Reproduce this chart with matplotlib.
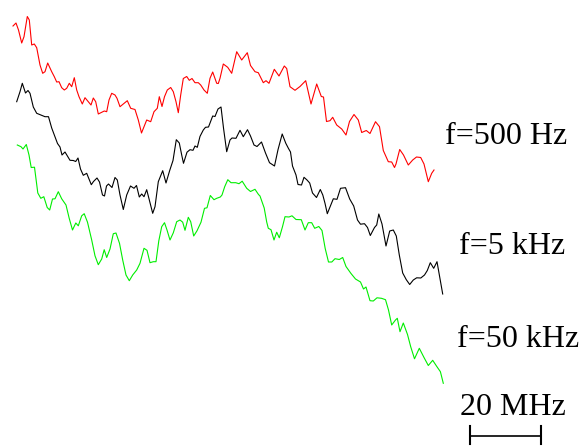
import numpy as np
import matplotlib
matplotlib.use("Agg")
import matplotlib.pyplot as plt

# spectra: x in display units (71 units = 20 MHz), y = offset amplitude (down is lower)
red_x = [13, 16, 18.5, 21.7, 24, 27.3, 29.3, 31.7, 34.3, 36.7, 40, 42.7, 45, 47.7, 51.7, 54.3, 56.7, 59,
         61.7, 64.3, 66.7, 69.3, 71.7, 74.3, 76.7, 79, 82.3, 85, 88.3, 91, 93.3, 95.7, 98.3, 101.7, 104.3,
         106.7, 109, 111.7, 115, 117, 120, 123.3, 127.3, 130.7, 135, 138.3, 141.5, 144.3, 146.7, 150.7, 154,
         157.3, 159.3, 162, 164.5, 167.3, 170.7, 173.3, 176, 178.3, 180.7, 183.3, 186.7, 189.3, 192, 195,
         198.3, 200.7, 204, 207.3, 210, 212.7, 216.7, 218.3, 220, 223.3, 227.7, 231.7, 236.7, 241.7, 247.3,
         250.5, 255, 258.3, 263.3, 266, 269, 274.3, 279, 284.3, 286.7, 290, 295, 300, 305.7, 311, 316.7,
         321.3, 323.5, 326.5, 330, 332.7, 336.7, 341.7, 346, 349.5, 354, 358.3, 361.7, 366.3, 370, 375.5,
         379.5, 383.3, 388.3, 391.7, 394.5, 396, 399.7, 403.5, 408.3, 412.7, 416.5, 420.7, 424, 428.3, 431.7, 434]
red_y = [26, 23, 30, 43, 36.7, 16.5, 20, 45, 44, 47.7, 65, 73.3, 71.7, 63, 71.7, 76.7, 82, 81.7,
         87.7, 90, 88.3, 83.3, 86.7, 77.7, 90, 96.7, 104, 97.7, 101.7, 105, 98, 101.7, 114, 112.3, 111,
         111.7, 100, 93.3, 95, 98.3, 106.7, 104, 100.7, 108.3, 109.5, 120, 133, 126, 120, 121.7, 111.7,
         108.3, 96.7, 106.5, 96.7, 90, 87.5, 91.7, 101.7, 112.7, 95, 78.5, 76.5, 80.3, 78.5, 82.7,
         82.7, 85, 90, 93.3, 78.3, 72, 83.3, 83.5, 78.3, 64, 67.3, 73.3, 51.7, 60, 52.7,
         65.5, 71.7, 72.7, 82.7, 80.7, 83.3, 69.3, 76, 66, 68.5, 86.7, 90.3, 86.5, 80.7, 104, 84,
         96.5, 97, 121.5, 120.7, 117.3, 125, 129, 135, 121.5, 114.5, 120, 132.5, 130.5, 133.5, 121.7,
         126.7, 150.5, 161.7, 162, 167.5, 164, 149.5, 155, 165, 160, 157, 157.5, 164, 181.7, 173.3, 170]

black_x = [16.7, 20, 22.3, 25.5, 28, 30, 33.3, 36.7, 41, 45, 48.5, 51.7, 55, 57.5, 60, 62, 65, 70, 73.3,
           75.7, 78, 80.5, 83.3, 86.7, 91.3, 93.5, 97, 99.5, 102.5, 104.5, 106.5, 108.5, 112, 115, 117.3,
           120, 123.3, 126.7, 130.5, 134, 136.5, 139.3, 141.7, 144, 146.7, 149.3, 152.7, 155, 158.3, 162.7,
           166, 169.7, 173, 176.3, 179.3, 181.7, 183.5, 187, 190, 193, 195, 197.3, 200, 203.3, 205.5, 208.5,
           212.7, 215, 218, 221, 223.5, 226.7, 230, 232, 236, 240, 243.3, 247.5, 250.5, 254, 257, 261.5,
           265.5, 269.5, 274.5, 278, 282.2, 285.8, 288.5, 290.5, 292.5, 296, 298, 301.5, 304, 307, 309.7,
           312.5, 316.5, 320.3, 322.8, 325, 327.3, 333.3, 337, 340.5, 345.5, 349.7, 353.7, 357.5, 360.5,
           364.5, 367.5, 370.3, 374.5, 376.7, 378.8, 382, 386, 389.7, 393.3, 396.3, 399.3, 402.7, 406.3,
           409.7, 413.3, 416.7, 420.8, 424.5, 427.3, 430.3, 433.7, 437, 442.7]
black_y = [101.7, 91.7, 83.3, 93, 90.5, 93.3, 107, 113.3, 115, 116.7, 116.7, 128, 137, 143.5, 147, 155, 152, 160.3, 160.5,
           161.5, 158, 169, 175.3, 173.3, 184.7, 181.5, 178, 182, 195, 196, 186, 184, 187.5, 177.5, 180,
           195, 209.5, 195, 186, 188.3, 185.5, 197, 194, 196.7, 189.7, 200, 213.3, 206.7, 181.7, 170.7,
           183, 170.5, 160.5, 139.7, 143, 155, 163.3, 152.2, 149.7, 150.3, 146, 147.3, 136.4, 130, 127.3, 127,
           116, 116.5, 109, 107, 128, 151.7, 140, 138, 138.3, 130.3, 136.7, 129.7, 136, 145, 146.5, 142,
           153, 162.7, 166, 149.7, 134, 143.3, 148.5, 152, 166, 175, 184.5, 185, 177.3, 180, 183,
           193, 197.5, 189.5, 195, 203.3, 213.7, 198.8, 199.3, 188.3, 187.7, 199, 206, 220, 224.2,
           223.7, 227.5, 235.5, 227.5, 225, 214, 224, 246, 231, 230, 236, 255, 273, 279.7,
           284.5, 280, 277.8, 278, 275, 270.5, 262.7, 268.3, 261.7, 294]

green_x = [17.3, 21, 23, 26.3, 29, 31.2, 34.5, 37.8, 40.8, 43.8, 47.2, 49.7, 52.5, 55, 58.3, 61.7, 66, 69.2,
           72.5, 75.8, 78.3, 81.7, 84.2, 87.5, 91.7, 95, 98.3, 101.7, 104.2, 106.7, 110, 113.3, 116, 119.5,
           122.7, 126, 129.3, 132.7, 136.7, 140, 144, 147, 150, 153.3, 156, 158.8, 161.7, 164.5, 167, 170,
           173.3, 176.7, 180, 182.7, 185, 188.3, 190.7, 193.7, 197, 201, 204.5, 207, 210.3, 214, 216.7,
           220.3, 222, 224.7, 227.8, 231, 235.7, 239, 242.2, 246.7, 250.5, 255, 258.5, 260, 264.2, 266.7,
           268.3, 271, 274, 276.7, 279.3, 282.5, 285, 289, 292, 296, 301.3, 305, 308.3, 311.7, 314.7, 318.8,
           322, 325.2, 328.5, 331.8, 335, 339.3, 342.7, 346, 351, 355.5, 360.5, 363.5, 366, 370, 373.3, 377,
           381.5, 385.5, 388.5, 391.7, 395.5, 397.3, 400, 403.3, 407.5, 410.7, 414.5, 419.3, 424, 428.3,
           432.7, 436.8, 440.4, 443.3]
green_y = [145, 146.7, 149, 144.5, 155, 167.5, 167.2, 193, 198.3, 196.7, 207.5, 210, 199, 198.8, 191.7, 198.8, 205, 218.3,
           230, 223, 225.8, 215.8, 213.7, 222.2, 240, 255.8, 264.7, 259, 249.7, 257.5, 249, 233.7, 233, 243.3,
           260, 275, 280.7, 275, 270, 263.3, 248.3, 250.3, 262.7, 261.7, 261.7, 240.8, 226.7, 222.7, 230, 240,
           232.8, 221.7, 220, 222.2, 230.3, 217.3, 221.7, 236, 230.8, 222.2, 208.3, 207.8, 195.5, 199.7, 198.3,
           197, 195, 186.7, 179.7, 182.7, 182.7, 183.7, 181.2, 188.3, 191.5, 189.3, 194.5, 196, 208, 222,
           228.3, 229.7, 240, 232.2, 237.8, 226.7, 216.7, 217, 215.8, 219.5, 219.7, 230, 222.7, 222.7, 228.3, 226.5,
           230.5, 248.5, 262, 262, 258.7, 259.5, 257.5, 266.5, 273.5, 279, 282, 289, 287, 300.7, 301, 297.8,
           298.3, 299.7, 310, 325, 320, 318.3, 331.7, 323, 334.5, 346.7, 358.8, 348.3, 357.5, 365.5,
           360.3, 366.5, 371.7, 383.3]

labels = ["f=500 Hz", "f=5 kHz", "f=50 kHz"]
colors = ["#ff0000", "#000000", "#00ee00"]
units_per_mhz = 71 / 20
bar_mhz = 20

fig = plt.figure(figsize=(5.82, 4.46), dpi=100)
ax = fig.add_axes([0, 0, 1, 1])
ax.set_xlim(0, 582)
ax.set_ylim(446, 0)
ax.axis("off")

series = [(red_x, red_y), (black_x, black_y), (green_x, green_y)]
for (x, y), c in zip(series, colors):
    ax.plot(x, y, color=c, lw=0.8)

font = dict(family="Liberation Serif", fontsize=23, va="baseline", ha="left")
label_pos = [(445, 144), (459, 254), (457, 347)]
for (lx, ly), text in zip(label_pos, labels):
    ax.text(lx, ly, text, **font)

# scale bar
x0 = 470
x1 = x0 + bar_mhz * units_per_mhz
ax.text(460, 415, f"{bar_mhz} MHz", **font)
ax.plot([x0, x1], [435.5, 435.5], color="black", lw=1.2)
ax.plot([x0, x0], [426, 444], color="black", lw=1.5)
ax.plot([x1, x1], [426, 444], color="black", lw=1.5)

fig.savefig("out.png", dpi=100)
